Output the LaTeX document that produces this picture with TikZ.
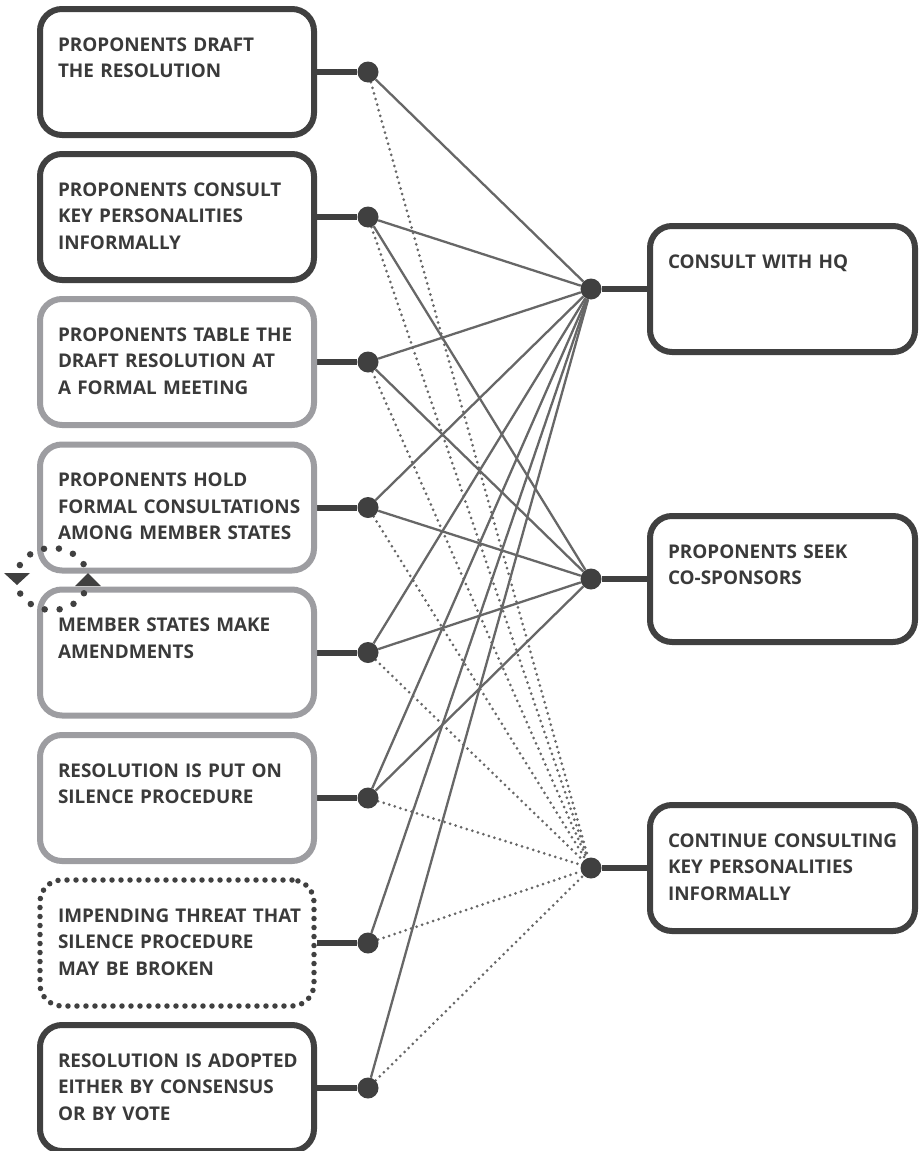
\documentclass[tikz,border=0pt]{standalone}
\usepackage{fontspec}
\setmainfont{Open Sans}
\usetikzlibrary{shapes,backgrounds}
\definecolor{darkline}{HTML}{404040}
\definecolor{greyline}{HTML}{9D9DA1}
\definecolor{wireline}{HTML}{676767}
\definecolor{inktext}{HTML}{3A3A3A}
\tikzstyle{box}=[rectangle,rounded corners=22pt,line width=6pt,inner xsep=18pt,inner ysep=0pt,
  text width=238pt,text height=42pt,text depth=84pt,align=left,text=inktext,
  execute at begin node={\rightskip=0pt plus 1fil minus 30pt},
  font=\fontsize{18.9}{26.7}\selectfont\bfseries]

\begin{document}
\begin{tikzpicture}[x=1pt,y=-1pt]
    \useasboundingbox (0,0) rectangle (919,1151);
    \tikzstyle{dot}=[circle,fill=darkline,minimum size=21pt,inner sep=0pt]
    \tikzstyle{darkbox}=[box,draw=darkline]
    \tikzstyle{greybox}=[box,draw=greyline]
    \tikzstyle{dotbox}=[box,draw=darkline,line width=5.5pt,line cap=round,dash pattern=on 0pt off 9pt]
    \tikzstyle{rightbox}=[box,draw=darkline,text width=229pt]
    \tikzstyle{stub}=[draw=darkline,line width=6pt]
    \tikzstyle{wire}=[draw=wireline,line width=2.3pt]
    \tikzstyle{dotwire}=[draw=wireline,line width=3pt,line cap=round,dash pattern=on 0pt off 5.8pt]

    % steps on the left
    \node[darkbox] (S1) at (177,72)    {PROPONENTS DRAFT\\THE RESOLUTION};
    \node[darkbox] (S2) at (177,217)   {PROPONENTS CONSULT\\KEY PERSONALITIES\\INFORMALLY};
    \node[greybox] (S3) at (177,362)   {PROPONENTS TABLE THE\\DRAFT RESOLUTION AT\\A FORMAL MEETING};
    \node[greybox] (S4) at (177,507.5) {PROPONENTS HOLD\\FORMAL CONSULTATIONS\\AMONG MEMBER STATES};
    \node[greybox] (S5) at (177,652.5) {MEMBER STATES MAKE\\AMENDMENTS};
    \node[greybox] (S6) at (177,798)   {RESOLUTION IS PUT ON\\SILENCE PROCEDURE};
    \node[dotbox]  (S7) at (177,943)   {IMPENDING THREAT THAT\\SILENCE PROCEDURE\\MAY BE BROKEN};
    \node[darkbox] (S8) at (177,1088)  {RESOLUTION IS ADOPTED\\EITHER BY CONSENSUS\\OR BY VOTE};

    \node[dot] (L1) at (368,72)    {};
    \node[dot] (L2) at (368,217)   {};
    \node[dot] (L3) at (368,362)   {};
    \node[dot] (L4) at (368,507.5) {};
    \node[dot] (L5) at (368,652.5) {};
    \node[dot] (L6) at (368,798)   {};
    \node[dot] (L7) at (368,943)   {};
    \node[dot] (L8) at (368,1088)  {};

    % actions on the right
    \node[rightbox] (HQ)  at (782.5,289) {CONSULT WITH HQ};
    \node[rightbox] (CS)  at (782.5,579) {PROPONENTS SEEK\\CO-SPONSORS};
    \node[rightbox] (KP)  at (782.5,868) {CONTINUE CONSULTING\\KEY PERSONALITIES\\INFORMALLY};

    \node[dot] (R1) at (591,289) {};
    \node[dot] (R2) at (591,579) {};
    \node[dot] (R3) at (591,868) {};

    \begin{scope}[on background layer]
    \draw[stub] (S1.east) -- (L1);
    \draw[stub] (S2.east) -- (L2);
    \draw[stub] (S3.east) -- (L3);
    \draw[stub] (S4.east) -- (L4);
    \draw[stub] (S5.east) -- (L5);
    \draw[stub] (S6.east) -- (L6);
    \draw[stub] (S7.east) -- (L7);
    \draw[stub] (S8.east) -- (L8);
    \draw[stub] (R1) -- (HQ.west);
    \draw[stub] (R2) -- (CS.west);
    \draw[stub] (R3) -- (KP.west);

    \draw[wire] (L1) -- (R1);
    \draw[wire] (L2) -- (R1);
    \draw[wire] (L3) -- (R1);
    \draw[wire] (L4) -- (R1);
    \draw[wire] (L5) -- (R1);
    \draw[wire] (L6) -- (R1);
    \draw[wire] (L7) -- (R1);
    \draw[wire] (L8) -- (R1);

    \draw[wire] (L2) -- (R2);
    \draw[wire] (L3) -- (R2);
    \draw[wire] (L4) -- (R2);
    \draw[wire] (L5) -- (R2);
    \draw[wire] (L6) -- (R2);

    \draw[dotwire] (L1) -- (R3);
    \draw[dotwire] (L2) -- (R3);
    \draw[dotwire] (L3) -- (R3);
    \draw[dotwire] (L4) -- (R3);
    \draw[dotwire] (L5) -- (R3);
    \draw[dotwire] (L6) -- (R3);
    \draw[dotwire] (L7) -- (R3);
    \draw[dotwire] (L8) -- (R3);
    \end{scope}

    % loop between S4 and S5
    \draw[darkline,line width=6.5pt,line cap=round,dash pattern=on 0pt off 15pt] (52,579) ellipse (36 and 31);
    \fill[darkline] (4,573) -- (30,573) -- (17,585) -- cycle;
    \fill[darkline] (75,586) -- (101,586) -- (88,573) -- cycle;

  \end{tikzpicture}
\end{document}
